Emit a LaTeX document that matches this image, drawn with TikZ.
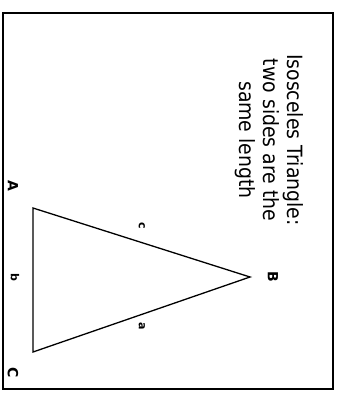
\documentclass[tikz,border=0pt]{standalone}
\usepackage{fontspec}
\setmainfont{DejaVu Sans}
\newfontfamily\condfont{DejaVu Sans Condensed}
\usetikzlibrary{positioning}
\tikzset{
	vertexlabel/.style={
			rotate=-90,
			inner sep=0pt,
			font=\bfseries\fontsize{14}{14}\selectfont
		},
	sidelabel/.style={
			rotate=-90,
			inner sep=0pt,
			font=\bfseries\fontsize{11}{11}\selectfont
		},
	titletext/.style={
			rotate=-90,
			align=center,
			inner sep=0pt,
			font=\condfont\fontsize{21}{24}\selectfont
		}
}

\begin{document}
\begin{tikzpicture}[x=1pt, y=-1pt]
\useasboundingbox (0,0) rectangle (339,394);
\draw[line width=1.4pt] (3,13) rectangle (333,389);

\node[titletext] (title) at (269,140) {Isosceles Triangle:\\two sides are the\\same length};

\coordinate (vA) at (33,208);
\coordinate (vB) at (250,277);
\coordinate (vC) at (33,352);
\draw[line width=1.3pt, line join=miter] (vA) -- (vB) -- (vC) -- cycle;

\node[vertexlabel] (lA) at (13,186) {A};
\node[vertexlabel] (lB) at (273,277) {B};
\node[vertexlabel] (lC) at (13,373) {C};
\node[sidelabel] (la) at (142,326) {a};
\node[sidelabel] (lb) at (15,277) {b};
\node[sidelabel] (lc) at (142,226) {c};
\end{tikzpicture}
\end{document}
